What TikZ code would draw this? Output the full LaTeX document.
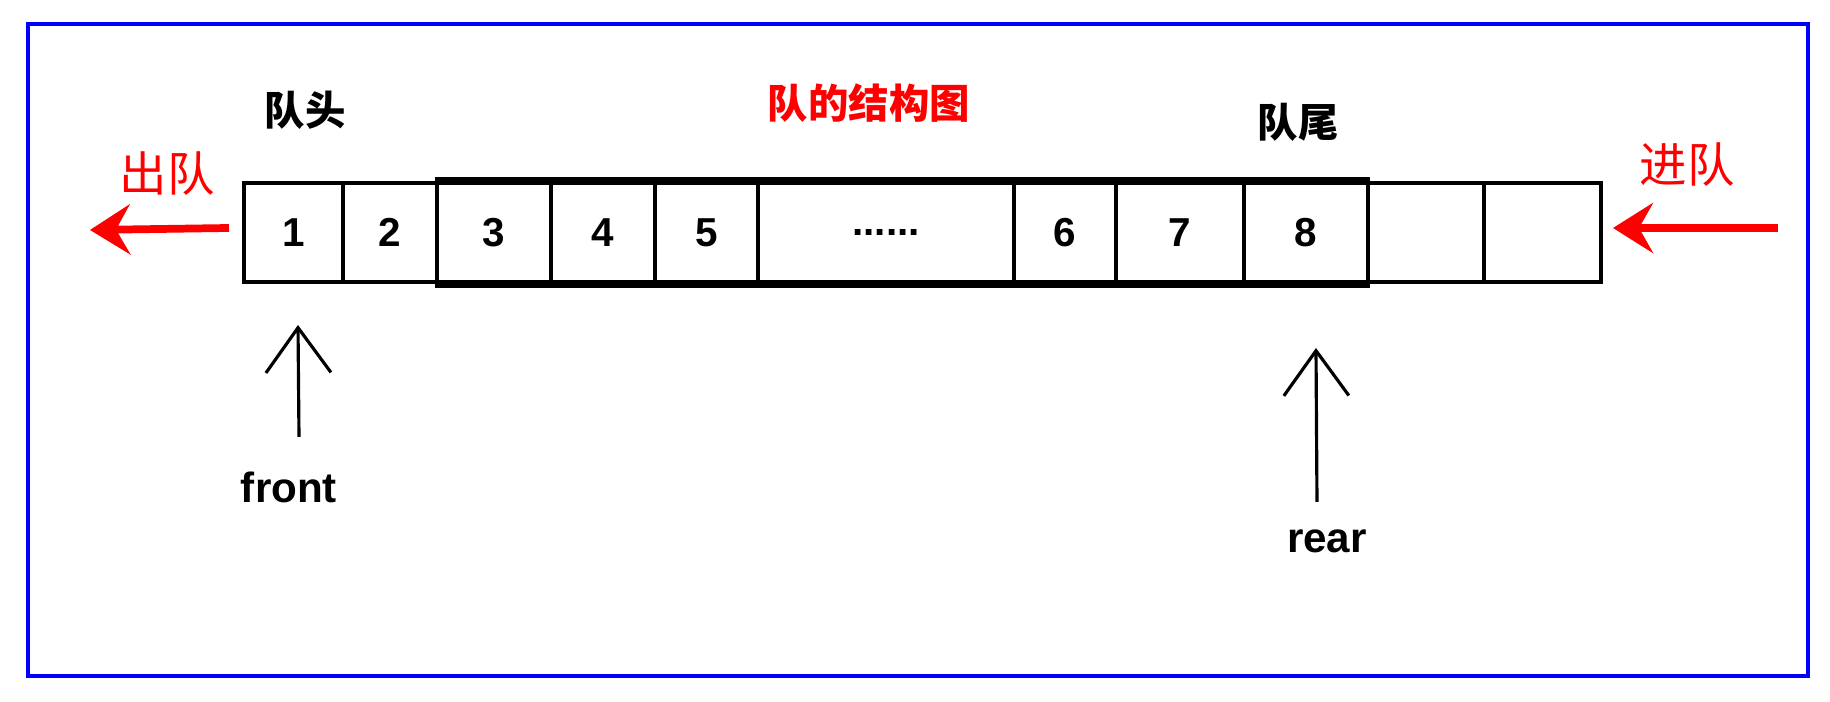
\documentclass[tikz,border=0pt]{standalone}
\usepackage{fontspec}
\setmainfont{Liberation Sans}
\newfontfamily\cjk{Noto Sans CJK SC}
\usepackage{tikz}
\usetikzlibrary{arrows.meta,positioning}
\definecolor{FrameBlue}{RGB}{0,0,255}
\definecolor{QueueRed}{RGB}{255,0,0}
\tikzset{
    cell/.style={draw, line width=1.2pt, minimum height=9.9mm, inner sep=0pt, font=\fontsize{11.5}{13}\selectfont\bfseries},
    band/.style={line width=2.4pt},
    ptrarr/.style={-{Straight Barb[length=4.5mm,width=6.5mm]}, line width=0.9pt},
    redarr/.style={-{Stealth[length=4mm,width=5mm,inset=1.4mm]}, line width=2.2pt, QueueRed},
    headlbl/.style={font=\fontsize{11.5}{14}\selectfont\cjk\bfseries},
    redlbl/.style={font=\fontsize{13.5}{16}\selectfont\cjk, text=QueueRed},
    ptrlbl/.style={font=\fontsize{12}{14}\selectfont\bfseries},
}

\begin{document}
\begin{tikzpicture}[x=0.1mm, y=-0.1mm]
\useasboundingbox (0,0) rectangle (1830,702);
\draw[FrameBlue, line width=1.2pt] (28,24) rectangle (1808,676);

% the queue
\node[cell, minimum width=9.9mm] (q1) at (293.5,232.5) {1};
\node[cell, minimum width=9.4mm] (q2) at (390,232.5) {2};
\node[cell, minimum width=11.4mm] (q3) at (494,232.5) {3};
\node[cell, minimum width=10.4mm] (q4) at (603,232.5) {4};
\node[cell, minimum width=10.3mm] (q5) at (706.5,232.5) {5};
\node[cell, minimum width=25.6mm] (q6) at (886,232.5) {......};
\node[cell, minimum width=10.2mm] (q7) at (1065,232.5) {6};
\node[cell, minimum width=12.8mm] (q8) at (1180,232.5) {7};
\node[cell, minimum width=12.4mm] (q9) at (1306,232.5) {8};
\node[cell, minimum width=11.6mm] (q10) at (1426,232.5) {};
\node[cell, minimum width=11.7mm] (q11) at (1542.5,232.5) {};
\draw[band] (q3.north west) -- (q9.north east);
\draw[band] (q3.south west) -- (q9.south east);

% labels
\node[headlbl] (head) at (305,110) {队头};
\node[headlbl, text=QueueRed] (title) at (869,103) {队的结构图};
\node[headlbl] (tail) at (1298,122) {队尾};
\node[redlbl] (deq) at (167,174) {出队};
\node[redlbl] (enq) at (1687,165) {进队};
\node[ptrlbl] (front) at (289,487) {front};
\node[ptrlbl] (rear) at (1327,541) {rear};

% arrows
\coordinate (ftail) at (299,437);
\coordinate (fhead) at (298,325);
\coordinate (rtail) at (1317,502);
\coordinate (rhead) at (1316,348);
\coordinate (deqtail) at (229,228);
\coordinate (deqhead) at (90,230);
\coordinate (enqtail) at (1778,228);
\coordinate (enqhead) at (1613,228);
\draw[ptrarr] (ftail) -- (fhead);
\draw[ptrarr] (rtail) -- (rhead);
\draw[redarr] (deqtail) -- (deqhead);
\draw[redarr] (enqtail) -- (enqhead);
\end{tikzpicture}
\end{document}
